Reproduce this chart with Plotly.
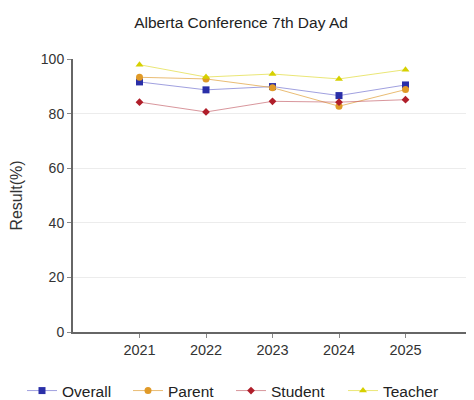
import plotly.graph_objects as go

years = [2021, 2022, 2023, 2024, 2025]
overall = [91.6, 88.7, 89.9, 86.6, 90.5]
parent = [93.3, 92.7, 89.5, 82.7, 88.8]
student = [84.2, 80.6, 84.5, 84.2, 85.1]
teacher = [97.9, 93.4, 94.5, 92.7, 96.1]

series = [
    ("Overall", overall, "#2a2fa8", "rgba(120,120,210,0.7)", "square", 7),
    ("Parent", parent, "#e09a28", "rgba(225,165,70,0.75)", "circle", 7),
    ("Student", student, "#b01e2a", "rgba(190,80,90,0.6)", "diamond", 6),
    ("Teacher", teacher, "#d6d000", "rgba(225,220,60,0.7)", "triangle-up", 7),
]

W, H = 466, 392
legend_ids = ["legend", "legend2", "legend3", "legend4"]
legend_x = [14, 120, 223, 335]  # left edge of each legend entry, figure px

fig = go.Figure()
for (name, vals, mc, lc, sym, sz), lid in zip(series, legend_ids):
    fig.add_trace(go.Scatter(
        x=years, y=vals, name=name, mode="lines+markers",
        line=dict(color=lc, width=1),
        marker=dict(color=mc, symbol=sym, size=sz, line=dict(width=0)),
        legend=lid,
    ))

legend_common = dict(
    orientation="h", xref="container", yref="container",
    xanchor="left", yanchor="middle", y=1 - 383 / H,
    font=dict(size=15.5, color="#222222"), itemwidth=30,
    bgcolor="rgba(0,0,0,0)", borderwidth=0,
)
legends = {lid: dict(legend_common, x=lx / W) for lid, lx in zip(legend_ids, legend_x)}

fig.update_layout(
    width=W, height=H,
    margin=dict(l=65, r=2, t=51, b=68, autoexpand=False),
    paper_bgcolor="white", plot_bgcolor="white",
    font=dict(family="Liberation Sans, Arial, sans-serif", size=14, color="#333333"),
    title=dict(text="Alberta Conference 7th Day Ad", x=0.5, xanchor="center",
               yref="container", y=1 - 14.5 / H, yanchor="middle",
               font=dict(size=15.5, color="#222222")),
    showlegend=True,
    **legends,
)
fig.update_xaxes(
    range=[2020, 2026], tickvals=years, ticktext=[str(y) for y in years],
    showgrid=False, showline=True, linecolor="#666666", linewidth=2,
    ticks="outside", ticklen=4, tickcolor="#888888", zeroline=False,
    tickfont=dict(size=14.5, color="#333333"), automargin=False,
)
fig.update_yaxes(
    range=[0, 100], tickvals=[0, 20, 40, 60, 80, 100],
    showgrid=True, gridcolor="#ececec", gridwidth=1,
    showline=True, linecolor="#666666", linewidth=2,
    ticks="outside", ticklen=4, tickcolor="#888888", zeroline=False,
    title=dict(text="Result(%)", font=dict(size=16, color="#333333"), standoff=16),
    tickfont=dict(size=14, color="#333333"), automargin=False,
)

fig.write_html("out.html")
